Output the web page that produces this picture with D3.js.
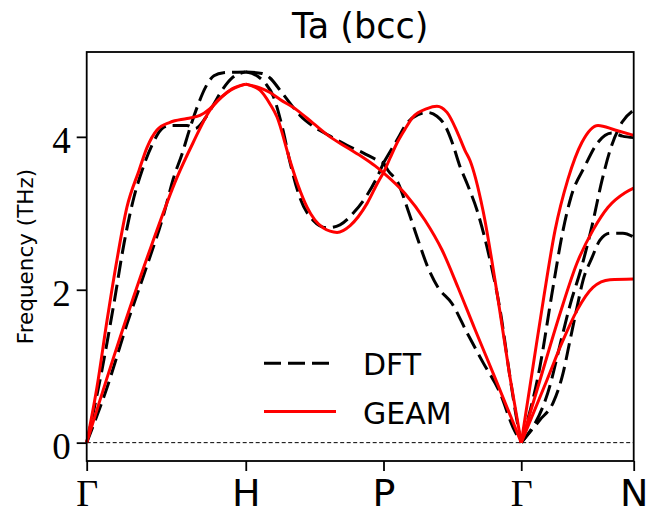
<!DOCTYPE html>
<html>
<head>
<meta charset="utf-8">
<script src="https://cdn.jsdelivr.net/npm/d3@7"></script>
<style>
  html, body { margin: 0; padding: 0; background: #fff; }
  svg { display: block; }
</style>
</head>
<body>
<svg id="chart" width="661" height="515"></svg>
<script>
// High-symmetry path of the bcc Brillouin zone
const kPointLabels = ["Γ", "H", "P", "Γ", "N"];
const segmentLengths = [1.0, 0.866, 0.866, 0.707]; // Γ-H, H-P, P-Γ, Γ-N in units of 2π/a
const yTicks = [0, 2, 4];

// Phonon branches per path segment: [fraction along segment, frequency (THz)]
const dftGH = [
  [[0,0],[0.096,0.95],[0.172,1.83],[0.235,2.61],[0.297,3.21],[0.348,3.56],[0.41,3.89],[0.48,4.12],[0.524,4.15],[0.631,4.15],[0.681,4.11],[0.744,4.24],[0.794,4.41],[0.851,4.61],[0.914,4.77],[1,4.85]],
  [[0,0],[0.128,0.72],[0.253,1.55],[0.36,2.2],[0.486,3.0],[0.544,3.45],[0.6,3.78],[0.65,4.12],[0.7,4.42],[0.75,4.66],[0.8,4.8],[0.86,4.84],[1,4.85]]
];
const dftHP = [
  [[0,4.85],[0.118,4.83],[0.176,4.77],[0.249,4.61],[0.321,4.44],[0.394,4.28],[0.488,4.14],[0.612,4.01],[0.735,3.89],[0.852,3.79],[0.94,3.71],[1,3.66]],
  [[0,4.85],[0.089,4.79],[0.147,4.69],[0.198,4.54],[0.27,4.09],[0.321,3.67],[0.394,3.2],[0.488,2.91],[0.59,2.81],[0.684,2.85],[0.779,3.0],[0.881,3.24],[0.961,3.5],[1,3.66]]
];
const dftPG = [
  [[0,3.66],[0.098,3.96],[0.171,4.18],[0.251,4.29],[0.316,4.32],[0.388,4.27],[0.446,4.15],[0.5,3.92],[0.55,3.64],[0.613,3.36],[0.679,3.04],[0.773,2.39],[0.846,1.74],[0.918,0.86],[0.962,0.36],[1,0]],
  [[0,3.66],[0.033,3.56],[0.105,3.4],[0.178,3.04],[0.251,2.65],[0.323,2.29],[0.396,2.03],[0.497,1.82],[0.606,1.44],[0.722,1.05],[0.846,0.65],[0.94,0.2],[1,0]]
];
const dftGN = [
  [[0,0],[0.167,1.0],[0.27,1.92],[0.372,2.78],[0.44,3.2],[0.567,3.62],[0.683,3.93],[0.807,4.05],[0.9,4.01],[1,3.99]],
  [[0,0],[0.256,0.75],[0.345,1.28],[0.434,1.8],[0.541,2.32],[0.63,2.84],[0.718,3.43],[0.789,3.82],[0.896,4.19],[1,4.35]],
  [[0,0],[0.167,0.3],[0.283,0.52],[0.372,0.91],[0.434,1.34],[0.496,1.77],[0.549,2.12],[0.629,2.42],[0.7,2.65],[0.789,2.74],[0.904,2.74],[1,2.69]]
];

const geamGH = [
  [[0,0],[0.065,0.73],[0.128,1.6],[0.19,2.39],[0.253,3.08],[0.329,3.56],[0.379,3.86],[0.442,4.09],[0.524,4.19],[0.631,4.24],[0.712,4.28],[0.775,4.37],[0.838,4.5],[0.914,4.63],[1,4.69]],
  [[0,0],[0.19,1.25],[0.404,2.56],[0.568,3.47],[0.668,3.92],[0.775,4.35],[0.882,4.58],[1,4.69]]
];
const geamHP = [
  [[0,4.69],[0.103,4.64],[0.176,4.58],[0.249,4.49],[0.372,4.35],[0.488,4.18],[0.612,4.0],[0.735,3.86],[0.852,3.73],[0.939,3.62],[1,3.53]],
  [[0,4.69],[0.103,4.61],[0.176,4.43],[0.227,4.26],[0.321,3.69],[0.379,3.37],[0.445,3.08],[0.561,2.81],[0.663,2.75],[0.758,2.84],[0.881,3.13],[0.961,3.41],[1,3.53]]
];
const geamPG = [
  [[0,3.53],[0.047,3.72],[0.098,3.92],[0.156,4.1],[0.214,4.26],[0.316,4.37],[0.388,4.4],[0.461,4.32],[0.534,4.07],[0.592,3.82],[0.628,3.69],[0.722,3.04],[0.824,1.96],[0.918,0.86],[1,0]],
  [[0,3.53],[0.156,3.26],[0.301,2.91],[0.425,2.52],[0.541,2.03],[0.66,1.5],[0.8,0.89],[0.94,0.27],[1,0]]
];
const geamGN = [
  [[0,0],[0.105,1.0],[0.2,1.9],[0.301,2.78],[0.416,3.45],[0.54,3.93],[0.683,4.15],[0.834,4.09],[1,4.02]],
  [[0,0],[0.167,0.82],[0.345,1.69],[0.496,2.35],[0.638,2.78],[0.772,3.08],[0.923,3.27],[1,3.33]],
  [[0,0],[0.229,0.82],[0.372,1.34],[0.496,1.73],[0.638,2.03],[0.789,2.13],[1,2.14]]
];

const dftBands = [dftGH, dftHP, dftPG, dftGN];
const geamBands = [geamGH, geamHP, geamPG, geamGN];

// ---- layout ----
const frame = { left: 86.7, right: 633.7, top: 52, bottom: 461 };
const sansFont = "'DejaVu Sans', sans-serif";
const serifFont = "'Liberation Serif', 'DejaVu Serif', serif";

const svg = d3.select("#chart");

// cumulative start of each segment along the path
const segStart = [0];
segmentLengths.forEach((len, i) => segStart.push(segStart[i] + len));
const pathTotal = segStart[segStart.length - 1];

const x = d3.scaleLinear().domain([0, pathTotal]).range([frame.left, frame.right]);
const y = d3.scaleLinear().domain([-0.24, 5.11]).range([frame.bottom, frame.top]);

function bandLine(seg) {
  return d3.line()
    .x(d => x(segStart[seg] + d[0] * segmentLengths[seg]))
    .y(d => y(d[1]))
    .curve(d3.curveMonotoneX);
}

// zero-frequency reference
svg.append("line")
  .attr("x1", x(0)).attr("x2", x(pathTotal))
  .attr("y1", y(0)).attr("y2", y(0))
  .attr("stroke", "#000").attr("stroke-width", 1)
  .attr("stroke-dasharray", "4,2.5");

// DFT reference bands
const dftG = svg.append("g");
dftBands.forEach((branches, seg) => {
  const line = bandLine(seg);
  branches.forEach(b => {
    dftG.append("path")
      .attr("d", line(b))
      .attr("fill", "none")
      .attr("stroke", "#000")
      .attr("stroke-width", 3)
      .attr("stroke-dasharray", "17,7");
  });
});

// GEAM bands
const geamG = svg.append("g");
geamBands.forEach((branches, seg) => {
  const line = bandLine(seg);
  branches.forEach(b => {
    geamG.append("path")
      .attr("d", line(b))
      .attr("fill", "none")
      .attr("stroke", "#ff0000")
      .attr("stroke-width", 3);
  });
});

// frame
svg.append("rect")
  .attr("x", frame.left).attr("y", frame.top)
  .attr("width", frame.right - frame.left)
  .attr("height", frame.bottom - frame.top)
  .attr("fill", "none").attr("stroke", "#000").attr("stroke-width", 1.8);

// x axis: high-symmetry points
const xAxis = d3.axisBottom(x)
  .tickValues(segStart)
  .tickFormat((d, i) => kPointLabels[i])
  .tickSize(10).tickSizeOuter(0);
svg.append("g")
  .attr("transform", `translate(0,${frame.bottom})`)
  .call(xAxis)
  .call(g => g.select(".domain").remove())
  .call(g => g.selectAll(".tick line").attr("stroke", "#000").attr("stroke-width", 1.8))
  .call(g => g.selectAll(".tick text")
    .attr("y", 45).attr("dy", null)
    .attr("fill", "#000")
    .style("font-size", "38px")
    .style("font-family", (d, i) => kPointLabels[i] === "Γ" ? serifFont : sansFont));

// y axis
const yAxis = d3.axisLeft(y)
  .tickValues(yTicks)
  .tickFormat(d3.format("d"))
  .tickSize(10).tickSizeOuter(0);
svg.append("g")
  .attr("transform", `translate(${frame.left},0)`)
  .call(yAxis)
  .call(g => g.select(".domain").remove())
  .call(g => g.selectAll(".tick line").attr("stroke", "#000").attr("stroke-width", 1.8))
  .call(g => g.selectAll(".tick text")
    .attr("x", -16).attr("y", 15.5).attr("dy", null)
    .attr("fill", "#000")
    .style("font-size", "37px")
    .style("font-family", serifFont));

// axis label
svg.append("text")
  .attr("transform", `translate(33,${(frame.top + frame.bottom) / 2}) rotate(-90)`)
  .attr("text-anchor", "middle")
  .style("font-family", sansFont)
  .style("font-size", "21.5px")
  .text("Frequency (THz)");

// title
svg.append("text")
  .attr("x", (frame.left + frame.right) / 2).attr("y", 38)
  .attr("text-anchor", "middle")
  .style("font-family", sansFont)
  .style("font-size", "35px")
  .text("Ta (bcc)");

// legend
const legendItems = [
  { label: "DFT", color: "#000", dash: "17,7", y: 363.3 },
  { label: "GEAM", color: "#ff0000", dash: null, y: 411.5 }
];
const legend = svg.append("g");
legendItems.forEach(it => {
  legend.append("line")
    .attr("x1", 264).attr("x2", 336)
    .attr("y1", it.y).attr("y2", it.y)
    .attr("stroke", it.color).attr("stroke-width", 3)
    .attr("stroke-dasharray", it.dash);
  legend.append("text")
    .attr("x", 363).attr("y", it.y + 12)
    .style("font-family", sansFont)
    .style("font-size", "30px")
    .text(it.label);
});
</script>
</body>
</html>
